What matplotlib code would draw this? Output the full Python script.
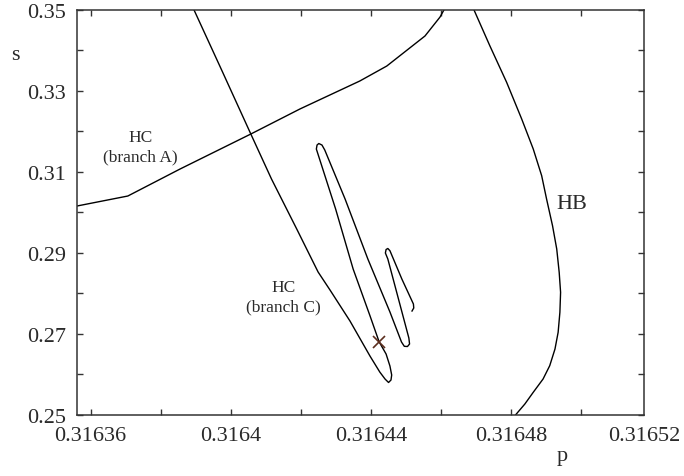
import numpy as np
import matplotlib.pyplot as plt

plt.rcParams['font.family'] = ['Liberation Serif', 'DejaVu Serif']

# HC curve, branch A
p_hca = [0.3163561, 0.3163706, 0.3163855, 0.3164057, 0.3164197, 0.3164368,
         0.3164445, 0.3164554, 0.3164597, 0.3164608]
s_hca = [0.30157, 0.30404, 0.31071, 0.31936, 0.32554, 0.33246,
         0.33616, 0.34358, 0.34827, 0.35000]

# HC curve, branch C (spiral part)
p_hcc = [0.3163895, 0.3163975, 0.3164057, 0.3164116, 0.3164188, 0.3164249,
         0.3164283, 0.3164340, 0.3164397, 0.3164425, 0.3164440, 0.3164450,
         0.3164457, 0.3164459, 0.3164454, 0.3164443, 0.3164423, 0.3164397,
         0.3164349, 0.3164299, 0.3164244, 0.3164246, 0.3164251, 0.3164260,
         0.3164268, 0.3164326, 0.3164391, 0.3164454, 0.3164487, 0.3164495,
         0.3164504, 0.3164510, 0.3164508, 0.3164448, 0.3164441, 0.3164443,
         0.3164448, 0.3164454, 0.3164488, 0.3164521, 0.3164522, 0.3164517]
s_hcc = [0.35000, 0.33493, 0.31936, 0.30824, 0.29589, 0.28526,
         0.28081, 0.27315, 0.26450, 0.26055, 0.25882, 0.25796,
         0.25857, 0.25981, 0.26203, 0.26500, 0.26804, 0.27446,
         0.28600, 0.30083, 0.31565, 0.31664, 0.31701, 0.31664,
         0.31541, 0.30330, 0.28847, 0.27538, 0.26796, 0.26690,
         0.26685, 0.26747, 0.26895, 0.28847, 0.28996, 0.29082,
         0.29107, 0.29052, 0.28353, 0.27735, 0.27637, 0.27562]

# Hopf bifurcation curve
p_hb = [0.3164694, 0.3164739, 0.3164787, 0.3164830, 0.3164863, 0.3164887,
        0.3164901, 0.3164918, 0.3164930, 0.3164937, 0.3164941, 0.3164939,
        0.3164934, 0.3164925, 0.3164910, 0.3164891, 0.3164863, 0.3164839,
        0.3164813]
s_hb = [0.35000, 0.34118, 0.33214, 0.32307, 0.31565, 0.30906,
        0.30330, 0.29670, 0.29094, 0.28519, 0.28025, 0.27530,
        0.27036, 0.26623, 0.26211, 0.25882, 0.25554, 0.25264,
        0.25000]

# marked point
p_mark = [0.3164423]
s_mark = [0.26804]

x_ticks = [0.31636, 0.31638, 0.31640, 0.31642, 0.31644, 0.31646, 0.31648, 0.31650]
x_labels = ['0.31636', '', '0.3164', '', '0.31644', '', '0.31648', '']
y_ticks = [0.25, 0.26, 0.27, 0.28, 0.29, 0.30, 0.31, 0.32, 0.33, 0.34, 0.35]
y_labels = ['0.25', '', '0.27', '', '0.29', '', '0.31', '', '0.33', '', '0.35']

txt = '#2a2a2a'
fig = plt.figure(figsize=(6.84, 4.77), dpi=100)
ax = fig.add_axes([0.1126, 0.1285, 0.8289, 0.8484])

ax.plot(p_hca, s_hca, color='k', lw=1.0)
ax.plot(p_hcc, s_hcc, color='k', lw=1.0)
ax.plot(p_hb, s_hb, color='k', lw=1.0)
ax.plot(p_mark, s_mark, 'x', color='#5c2e1e', ms=8, mew=1.2)

ax.set_xlim(0.3163561, 0.3165179)
ax.set_ylim(0.25, 0.35)
ax.set_xticks(x_ticks)
ax.set_xticklabels(x_labels)
ax.set_yticks(y_ticks)
ax.set_yticklabels(y_labels)
ax.tick_params(direction='in', top=True, right=True, length=4, width=1.0,
               labelsize=16, labelcolor=txt, color='#333333', pad=8)
for sp in ax.spines.values():
    sp.set_linewidth(1.1)
    sp.set_color('#333333')

# last tick label sits on the right border
ax.annotate('0.31652', xy=(1.0, 0.0), xycoords='axes fraction',
            xytext=(0, -8), textcoords='offset points',
            ha='center', va='top', fontsize=16, color=txt)

ax.text(0.3163741, 0.3163, 'HC\n(branch A)', ha='center', va='center',
        fontsize=12.5, color=txt, linespacing=1.25)
ax.text(0.3164151, 0.2791, 'HC\n(branch C)', ha='center', va='center',
        fontsize=12.5, color=txt, linespacing=1.25)
ax.text(0.3164928, 0.3022, 'HB', ha='left', va='center', fontsize=16, color=txt)

fig.text(15 / 684, 1 - 55 / 477, 's', ha='center', va='center', fontsize=16, color=txt)
fig.text(562 / 684, 1 - 457 / 477, 'p', ha='center', va='center', fontsize=16, color=txt)

fig.savefig('out.png', dpi=100)
